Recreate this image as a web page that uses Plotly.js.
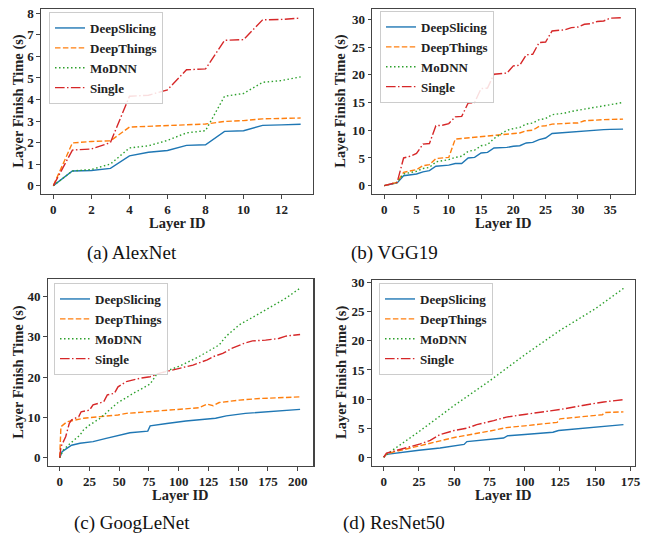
<!DOCTYPE html>
<html>
<head>
<meta charset="utf-8">
<script src="https://cdn.plot.ly/plotly-3.0.1.min.js"></script>
<style>html,body{margin:0;padding:0;background:#fff;}#chart{width:646px;height:534px;}</style>
</head>
<body>
<div id="chart"></div>
<script>
// ---------- DATA ----------
const seriesNames = ["DeepSlicing", "DeepThings", "MoDNN", "Single"];

// (a) AlexNet
const alexX = [0,1,2,3,4,5,6,7,8,9,10,11,12,13];
const alexDeepSlicing = [0,0.68,0.70,0.80,1.38,1.55,1.63,1.87,1.90,2.52,2.55,2.80,2.82,2.85];
const alexDeepThings  = [0,1.98,2.05,2.08,2.72,2.75,2.78,2.83,2.86,2.98,3.02,3.10,3.12,3.14];
const alexMoDNN       = [0,0.68,0.75,1.00,1.75,1.85,2.10,2.45,2.55,4.15,4.28,4.80,4.88,5.05];
const alexSingle      = [0,1.65,1.70,2.00,4.15,4.20,4.45,5.38,5.42,6.75,6.78,7.70,7.72,7.78];

// (b) VGG19
const vggX = [0,1,2,3,4,5,6,7,8,9,10,11,12,13,14,15,16,17,18,19,20,21,22,23,24,25,26,27,28,29,30,31,32,33,34,35,36,37];
const vggDeepSlicing = [0,0.3,0.5,1.8,1.9,2.1,2.5,2.7,3.5,3.6,3.7,4.0,4.0,5.0,5.1,5.9,6.0,6.8,6.8,6.9,7.1,7.2,7.7,7.8,8.3,8.6,9.4,9.5,9.5,9.6,9.7,9.8,9.9,10.0,10.1,10.15,10.2,10.2];
const vggDeepThings  = [0,0.3,0.6,2.4,2.6,2.9,3.6,3.8,4.9,5.0,5.1,8.4,8.5,8.6,8.7,8.8,8.9,9.0,9.2,9.3,9.4,9.5,9.9,10.0,10.7,10.8,11.1,11.1,11.2,11.3,11.3,11.7,11.8,11.8,11.9,11.95,12.0,12.0];
const vggMoDNN       = [0,0.3,0.6,2.1,2.3,2.6,3.1,3.3,4.3,4.5,4.7,5.1,5.3,6.2,6.4,7.2,7.4,8.5,9.3,10.0,10.3,10.5,11.1,11.3,11.9,12.1,12.8,12.9,13.1,13.4,13.6,13.8,14.0,14.3,14.5,14.6,14.8,15.0];
const vggSingle      = [0,0.3,0.6,5.0,5.3,5.8,7.5,7.6,10.8,10.9,11.2,12.4,12.5,14.9,15.0,17.5,17.6,20.1,20.2,20.3,21.6,21.7,23.6,23.7,25.8,25.9,27.9,28.0,28.1,28.5,28.6,29.1,29.2,29.6,29.7,30.2,30.2,30.3];

// (c) GoogLeNet (read at selected layer IDs)
const googDeepSlicingX = [0,2,6,10,17,28,39,50,59,74,76,90,106,131,140,156,170,202];
const googDeepSlicingY = [0,1.5,2.3,3.1,3.6,4.0,4.8,5.6,6.2,6.6,7.9,8.5,9.1,9.8,10.4,11.0,11.3,12.0];
const googDeepThingsX = [0,1,6,20,34,49,56,76,95,117,124,129,134,151,168,202];
const googDeepThingsY = [0,7.7,8.9,9.8,10.2,10.6,11.0,11.4,11.8,12.4,13.3,12.9,13.7,14.3,14.7,15.1];
const googMoDNNX = [0,3,9,17,20,25,34,48,62,76,81,101,117,134,140,151,173,190,202];
const googMoDNNY = [0,1.9,3.6,5.6,6.9,8.1,9.8,13.5,16.0,18.3,20.5,22.8,25.1,28.0,30.2,33.0,36.7,39.6,42.1];
const googSingleX = [0,1,5,8,10,16,18,25,28,37,40,46,49,56,67,76,84,95,112,124,129,137,145,155,162,173,184,190,202];
const googSingleY = [0,2.7,5.2,8.5,9.4,10.2,11.4,11.8,13.1,13.9,15.6,16.0,17.6,18.9,19.7,20.1,21.0,21.8,23.0,24.3,25.1,25.9,27.2,28.4,29.0,29.2,29.6,30.2,30.6];

// (d) ResNet50 (read at selected layer IDs)
const resDeepSlicingX = [0,2,25,40,57,59,85,88,100,120,124,150,170];
const resDeepSlicingY = [0,0.5,1.2,1.6,2.2,2.7,3.3,3.7,3.9,4.3,4.6,5.2,5.6];
const resDeepThingsX = [0,2,26,50,75,87,100,123,125,150,155,157,170];
const resDeepThingsY = [0,0.6,2.0,3.4,4.5,5.1,5.4,6.0,6.6,7.1,7.3,7.7,7.8];
const resMoDNNX = [0,5,25,50,75,100,125,150,170];
const resMoDNNY = [0,1.0,4.4,8.9,13.1,17.6,21.8,25.5,29.0];
const resSingleX = [0,2,26,33,40,50,59,66,78,87,101,125,141,156,170];
const resSingleY = [0,0.7,2.3,2.9,3.9,4.6,5.0,5.6,6.3,6.9,7.4,8.2,8.9,9.5,9.9];

const captions = ["(a) AlexNet", "(b) VGG19", "(c) GoogLeNet", "(d) ResNet50"];
const xTitle = "Layer ID";
const yTitle = "Layer Finish Time (s)";

// ---------- STYLE ----------
const colors = ["#1f77b4", "#ff7f0e", "#2ca02c", "#d62728"];
const dashes = ["solid", "5.5px,2.4px", "1.5px,2.5px", "9.6px,2.4px,1.5px,2.4px"];
const serif = "Liberation Serif, Times New Roman, serif";
const W = 646, H = 534;

const panels = [
  {xs:[alexX,alexX,alexX,alexX], ys:[alexDeepSlicing,alexDeepThings,alexMoDNN,alexSingle]},
  {xs:[vggX,vggX,vggX,vggX], ys:[vggDeepSlicing,vggDeepThings,vggMoDNN,vggSingle]},
  {xs:[googDeepSlicingX,googDeepThingsX,googMoDNNX,googSingleX], ys:[googDeepSlicingY,googDeepThingsY,googMoDNNY,googSingleY]},
  {xs:[resDeepSlicingX,resDeepThingsX,resMoDNNX,resSingleX], ys:[resDeepSlicingY,resDeepThingsY,resMoDNNY,resSingleY]}
];

// frame pixel boxes [left, right, top, bottom]
const boxes = [[41,313,9.3,194],[372.3,635,9.3,194],[47.7,313.3,279.3,466],[371.7,635,280,466]];
const xRanges = [[-0.65,13.65],[-1.85,38.85],[-10.1,213.1],[-8.5,178.2]];
const yRanges = [[-0.39,8.19],[-1.5,31.8],[-2.06,44.3],[-1.5,30.45]];
const xDticks = [2,5,25,25];
const yDticks = [1,5,10,5];
const legendPos = [[49,12],[380,11],[54,283],[379,283]];
const yTitleX = [19,341,19,341];
const capPos = [[132,253],[394,253],[132,523],[394,523]];

const traces = [];
const layout = {
  width: W, height: H,
  margin: {l:0, r:0, t:0, b:0},
  paper_bgcolor: "#fff", plot_bgcolor: "#fff",
  font: {family: serif, color: "#111"},
  annotations: []
};

panels.forEach((p, i) => {
  const n = i === 0 ? "" : String(i + 1);
  const [L, R, T, B] = boxes[i];
  p.ys.forEach((yv, k) => {
    traces.push({
      x: p.xs[k], y: yv, type: "scatter", mode: "lines",
      name: seriesNames[k],
      xaxis: "x" + n, yaxis: "y" + n,
      legend: "legend" + n,
      line: {color: colors[k], dash: dashes[k], width: 1.4},
      hoverinfo: "skip"
    });
  });
  const axCommon = {
    showline: true, mirror: true, linecolor: "#444", linewidth: 1.2,
    ticks: "outside", ticklen: 3.5, tickwidth: 1, tickcolor: "#444",
    showgrid: false, zeroline: false,
    tickfont: {family: serif, size: 13, weight: 700, color: "#222"}
  };
  layout["xaxis" + n] = Object.assign({}, axCommon, {
    domain: [L / W, R / W], range: xRanges[i], dtick: xDticks[i], tick0: 0,
    anchor: "y" + n
  });
  layout["yaxis" + n] = Object.assign({}, axCommon, {
    domain: [1 - B / H, 1 - T / H], range: yRanges[i], dtick: yDticks[i], tick0: 0,
    anchor: "x" + n
  });
  layout["legend" + n] = {
    x: legendPos[i][0] / W, y: 1 - legendPos[i][1] / H,
    xanchor: "left", yanchor: "top",
    bgcolor: "rgba(255,255,255,0.85)", bordercolor: "#cccccc", borderwidth: 1,
    font: {family: serif, size: 13, weight: 700, color: "#222"},
    tracegroupgap: 0
  };
  // axis titles
  layout.annotations.push({
    text: xTitle, xref: "paper", yref: "paper",
    x: ((L + R) / 2) / W, y: 1 - (B + 29) / H,
    xanchor: "center", yanchor: "middle", showarrow: false, borderpad: 0,
    font: {family: serif, size: 14.5, weight: 700, color: "#222"}
  });
  layout.annotations.push({
    text: yTitle, xref: "paper", yref: "paper",
    x: yTitleX[i] / W, y: 1 - ((T + B) / 2 - 1) / H,
    xanchor: "center", yanchor: "middle", textangle: -90, showarrow: false, borderpad: 0,
    font: {family: serif, size: 14.5, weight: 700, color: "#222"}
  });
  // caption
  layout.annotations.push({
    text: captions[i], xref: "paper", yref: "paper",
    x: capPos[i][0] / W, y: 1 - capPos[i][1] / H,
    xanchor: "center", yanchor: "middle", showarrow: false,
    font: {family: serif, size: 19, color: "#111"}
  });
});

Plotly.newPlot("chart", traces, layout, {staticPlot: true, displayModeBar: false});
</script>
</body>
</html>
